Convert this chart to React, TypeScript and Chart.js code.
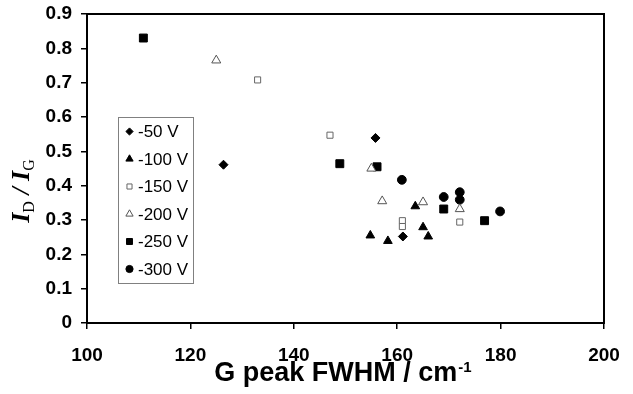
import React, { useEffect, useRef } from 'react';
import { Chart, registerables } from 'chart.js';

Chart.register(...registerables);

const seriesLabels = ['-50 V', '-100 V', '-150 V', '-200 V', '-250 V', '-300 V'];

const x50 = [126.4, 155.8, 161.1];
const y50 = [0.461, 0.539, 0.252];
const x100 = [154.8, 158.2, 163.5, 165.0, 166.0];
const y100 = [0.255, 0.239, 0.340, 0.279, 0.252];
const x150 = [133.0, 147.0, 161.0, 161.0, 172.1];
const y150 = [0.708, 0.547, 0.298, 0.281, 0.294];
const x200 = [125.0, 155.0, 157.1, 165.0, 172.1];
const y200 = [0.765, 0.450, 0.355, 0.352, 0.332];
const x250 = [110.9, 148.9, 156.1, 169.0, 176.9];
const y250 = [0.830, 0.464, 0.455, 0.332, 0.298];
const x300 = [160.9, 169.0, 172.1, 172.1, 179.9];
const y300 = [0.417, 0.367, 0.381, 0.359, 0.325];

const xTicks = [100, 120, 140, 160, 180, 200];
const yTicks = [0, 0.1, 0.2, 0.3, 0.4, 0.5, 0.6, 0.7, 0.8, 0.9];

const SANS = "'Liberation Sans', Arial, sans-serif";
const SERIF = "'Liberation Serif', 'Times New Roman', serif";

type Style = { shape: string; fill: string; stroke: string; r: number; lr: number };
const styles: Style[] = [
  { shape: 'rectRot', fill: '#000', stroke: '#000', r: 4.5, lr: 3.6 },
  { shape: 'triangle', fill: '#000', stroke: '#000', r: 5, lr: 4.2 },
  { shape: 'rect', fill: '#fff', stroke: '#666', r: 4.3, lr: 3.6 },
  { shape: 'triangle', fill: '#fff', stroke: '#555', r: 5.2, lr: 4.2 },
  { shape: 'rect', fill: '#000', stroke: '#000', r: 5.6, lr: 4.2 },
  { shape: 'circle', fill: '#000', stroke: '#000', r: 4.4, lr: 3.6 },
];

const xs = [x50, x100, x150, x200, x250, x300];
const ys = [y50, y100, y150, y200, y250, y300];

function drawMarker(ctx: CanvasRenderingContext2D, s: Style, x: number, y: number, r: number) {
  ctx.save();
  ctx.beginPath();
  if (s.shape === 'rect') {
    const h = Math.SQRT1_2 * r;
    ctx.rect(x - h, y - h, 2 * h, 2 * h);
  } else if (s.shape === 'rectRot') {
    ctx.moveTo(x, y - r);
    ctx.lineTo(x + r, y);
    ctx.lineTo(x, y + r);
    ctx.lineTo(x - r, y);
    ctx.closePath();
  } else if (s.shape === 'triangle') {
    const w = r * Math.sin(Math.PI / 3);
    ctx.moveTo(x, y - r);
    ctx.lineTo(x + w, y + r / 2);
    ctx.lineTo(x - w, y + r / 2);
    ctx.closePath();
  } else {
    ctx.arc(x, y, r, 0, Math.PI * 2);
  }
  ctx.fillStyle = s.fill;
  ctx.fill();
  ctx.strokeStyle = s.stroke;
  ctx.lineWidth = 1;
  ctx.stroke();
  ctx.restore();
}

const decorPlugin = {
  id: 'decor',
  afterDraw(chart: any) {
    const ctx: CanvasRenderingContext2D = chart.ctx;
    const a = chart.chartArea;
    ctx.save();
    // plot frame
    ctx.strokeStyle = '#000';
    ctx.lineWidth = 2;
    ctx.strokeRect(a.left, a.top, a.right - a.left, a.bottom - a.top);

    // legend box
    const lx = 118.5, ly = 117.5, lw = 75, lh = 166;
    ctx.fillStyle = '#fff';
    ctx.fillRect(lx, ly, lw, lh);
    ctx.strokeStyle = '#808080';
    ctx.lineWidth = 1;
    ctx.strokeRect(lx, ly, lw, lh);
    ctx.font = `17px ${SANS}`;
    ctx.textBaseline = 'middle';
    ctx.textAlign = 'left';
    seriesLabels.forEach((lab, i) => {
      const cy = 131.5 + i * 27.5;
      drawMarker(ctx, styles[i], 129.5, cy, styles[i].lr);
      ctx.fillStyle = '#000';
      ctx.fillText(lab, 138, cy + 1);
    });

    // x title
    ctx.fillStyle = '#000';
    ctx.textBaseline = 'alphabetic';
    ctx.font = `bold 27px ${SANS}`;
    const main = 'G peak FWHM / cm';
    const mw = ctx.measureText(main).width;
    ctx.font = `bold 15px ${SANS}`;
    const sw = ctx.measureText('-1').width;
    const total = mw + 1 + sw;
    const startX = 343 - total / 2;
    ctx.font = `bold 27px ${SANS}`;
    ctx.fillText(main, startX, 381);
    ctx.font = `bold 15px ${SANS}`;
    ctx.fillText('-1', startX + mw + 1, 372);

    // y title (rotated)
    ctx.translate(29, 191);
    ctx.rotate(-Math.PI / 2);
    const big = `bold italic 26px ${SERIF}`;
    const sub = `16px ${SERIF}`;
    const parts: [string, string, number][] = [
      ['I', big, 0],
      ['D', sub, 5],
      [' / ', big, 0],
      ['I', big, 0],
      ['G', sub, 5],
    ];
    let tw = 0;
    parts.forEach(([t, f]) => { ctx.font = f; tw += ctx.measureText(t).width; });
    let px = -tw / 2;
    parts.forEach(([t, f, dy]) => {
      ctx.font = f;
      ctx.fillText(t, px, dy);
      px += ctx.measureText(t).width;
    });
    ctx.restore();
  },
};

export default function App() {
  const ref = useRef<HTMLCanvasElement>(null);
  useEffect(() => {
    document.body.style.margin = '0';
    const canvas = ref.current!;
    const datasets = seriesLabels.map((lab, i) => ({
      label: lab,
      data: xs[i].map((x, j) => ({ x, y: ys[i][j] })),
      pointStyle: styles[i].shape,
      pointRadius: styles[i].r,
      pointBackgroundColor: styles[i].fill,
      pointBorderColor: styles[i].stroke,
      pointBorderWidth: 1,
      showLine: false,
    }));
    const chart = new Chart(canvas, {
      type: 'scatter',
      data: { datasets },
      plugins: [decorPlugin],
      options: {
        responsive: false,
        animation: false,
        layout: { padding: { top: 14, right: 29, left: 0, bottom: 0 } },
        plugins: { legend: { display: false }, tooltip: { enabled: false } },
        scales: {
          x: {
            type: 'linear',
            min: 100,
            max: 200,
            afterFit: (s: any) => {
              s.height = 71;
              s.paddingLeft = 0;
              s.paddingRight = 0;
            },
            afterBuildTicks: (s: any) => { s.ticks = xTicks.map((v) => ({ value: v })); },
            ticks: {
              font: { family: SANS, size: 19, weight: 'bold' },
              color: '#000',
              padding: 15,
              maxRotation: 0,
              callback: (v: any) => String(v),
            },
            grid: { drawOnChartArea: false, drawTicks: true, tickLength: 6, color: '#000', lineWidth: 1.5 },
            border: { display: true, color: '#000', width: 2 },
          },
          y: {
            type: 'linear',
            min: 0,
            max: 0.9,
            afterFit: (s: any) => {
              s.width = 87;
              s.paddingTop = 0;
              s.paddingBottom = 0;
            },
            afterBuildTicks: (s: any) => { s.ticks = yTicks.map((v) => ({ value: v })); },
            ticks: {
              font: { family: SANS, size: 19, weight: 'bold' },
              color: '#000',
              padding: 9,
              callback: (v: any) => String(Math.round(v * 10) / 10),
            },
            grid: { drawOnChartArea: false, drawTicks: true, tickLength: 6, color: '#000', lineWidth: 1.5 },
            border: { display: true, color: '#000', width: 2 },
          },
        },
      },
    });
    return () => chart.destroy();
  }, []);
  return (
    <div style={{ width: 633, height: 394 }}>
      <canvas ref={ref} width={633} height={394} style={{ display: 'block' }} />
    </div>
  );
}
